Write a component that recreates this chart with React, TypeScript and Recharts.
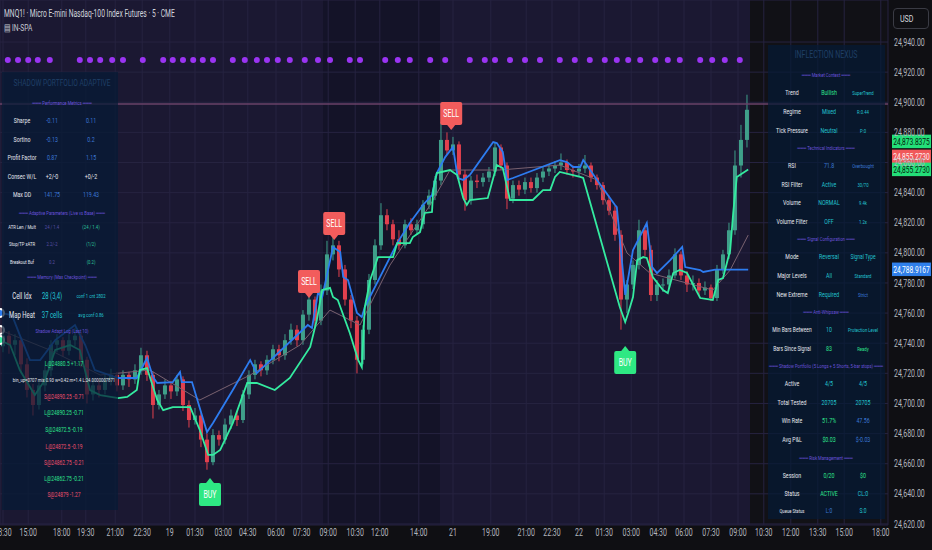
import {
  ComposedChart,
  Bar,
  Line,
  Scatter,
  XAxis,
  YAxis,
  CartesianGrid,
  ReferenceLine,
} from "recharts";

const FONT = "Roboto, 'Noto Sans', sans-serif";
const SX = 0.7; // the screenshot's text is squeezed horizontally

// MNQ1! 5m, resampled candles: [open, high, low, close]
const ohlc: number[][] = [
  [24738, 24750, 24734, 24745], [24745, 24748, 24733, 24739], [24739, 24746, 24732, 24742],
  [24742, 24744, 24720, 24726], [24726, 24730, 24704, 24709], [24709, 24713, 24692, 24699],
  [24699, 24714, 24696, 24712], [24712, 24725, 24708, 24722], [24722, 24742, 24718, 24739],
  [24739, 24746, 24734, 24742], [24742, 24744, 24731, 24735], [24735, 24746, 24732, 24742],
  [24742, 24750, 24738, 24745], [24745, 24747, 24724, 24729], [24729, 24731, 24700, 24706],
  [24706, 24716, 24702, 24712], [24712, 24715, 24704, 24709], [24709, 24720, 24706, 24716],
  [24716, 24723, 24712, 24719], [24719, 24721, 24708, 24712], [24712, 24722, 24709, 24719],
  [24719, 24721, 24711, 24716], [24716, 24726, 24713, 24722], [24722, 24737, 24719, 24732],
  [24732, 24735, 24715, 24719], [24719, 24721, 24690, 24699], [24699, 24709, 24696, 24706],
  [24706, 24716, 24703, 24712], [24712, 24715, 24703, 24708], [24708, 24719, 24705, 24716],
  [24716, 24718, 24695, 24699], [24699, 24702, 24684, 24689], [24689, 24697, 24686, 24692],
  [24692, 24694, 24671, 24676], [24676, 24680, 24656, 24661], [24661, 24683, 24659, 24679],
  [24679, 24682, 24672, 24676], [24676, 24690, 24673, 24686], [24686, 24696, 24683, 24692],
  [24692, 24695, 24685, 24689], [24689, 24709, 24687, 24706], [24706, 24722, 24703, 24719],
  [24719, 24729, 24716, 24726], [24726, 24728, 24718, 24722], [24722, 24732, 24719, 24729],
  [24729, 24739, 24726, 24736], [24736, 24739, 24728, 24732], [24732, 24746, 24729, 24742],
  [24742, 24753, 24739, 24749], [24749, 24752, 24738, 24742], [24742, 24762, 24739, 24759],
  [24759, 24772, 24755, 24769], [24769, 24771, 24750, 24755], [24755, 24779, 24752, 24775],
  [24775, 24808, 24772, 24799], [24799, 24813, 24795, 24805], [24805, 24808, 24784, 24789],
  [24789, 24792, 24765, 24769], [24769, 24772, 24750, 24755], [24755, 24758, 24720, 24729],
  [24729, 24752, 24726, 24749], [24749, 24786, 24746, 24782], [24782, 24809, 24779, 24805],
  [24805, 24833, 24802, 24825], [24825, 24829, 24815, 24819], [24819, 24822, 24805, 24809],
  [24809, 24815, 24802, 24805], [24805, 24822, 24803, 24819], [24819, 24823, 24812, 24815],
  [24815, 24822, 24812, 24819], [24819, 24835, 24816, 24832], [24832, 24842, 24829, 24838],
  [24838, 24851, 24835, 24848], [24848, 24887, 24845, 24875], [24875, 24880, 24865, 24868],
  [24868, 24877, 24865, 24872], [24872, 24874, 24848, 24852], [24852, 24855, 24828, 24835],
  [24835, 24851, 24832, 24848], [24848, 24852, 24843, 24847], [24847, 24853, 24844, 24850],
  [24850, 24857, 24847, 24854], [24854, 24873, 24851, 24870], [24870, 24872, 24855, 24858],
  [24858, 24860, 24829, 24836], [24836, 24848, 24833, 24845], [24845, 24848, 24838, 24842],
  [24842, 24850, 24839, 24847], [24847, 24850, 24840, 24843], [24843, 24853, 24840, 24850],
  [24850, 24857, 24847, 24854], [24854, 24859, 24851, 24856], [24856, 24861, 24853, 24858],
  [24858, 24866, 24855, 24860], [24860, 24862, 24852, 24855], [24855, 24858, 24850, 24854],
  [24854, 24859, 24851, 24856], [24856, 24865, 24853, 24858], [24858, 24860, 24847, 24850],
  [24850, 24852, 24842, 24845], [24845, 24847, 24832, 24835], [24835, 24838, 24825, 24828],
  [24828, 24831, 24808, 24812], [24812, 24815, 24749, 24769], [24769, 24782, 24760, 24779],
  [24779, 24795, 24776, 24792], [24792, 24822, 24789, 24815], [24815, 24818, 24798, 24802],
  [24802, 24805, 24768, 24772], [24772, 24782, 24768, 24779], [24779, 24783, 24774, 24779],
  [24779, 24789, 24776, 24785], [24785, 24803, 24783, 24799], [24799, 24801, 24782, 24785],
  [24785, 24788, 24774, 24779], [24779, 24785, 24775, 24780], [24780, 24783, 24772, 24775],
  [24775, 24781, 24772, 24777], [24777, 24779, 24768, 24770], [24770, 24792, 24768, 24789],
  [24789, 24802, 24786, 24799], [24799, 24820, 24796, 24815], [24815, 24868, 24812, 24858],
  [24858, 24885, 24850, 24875], [24875, 24905, 24870, 24895],
];

// indicator lines: [bar position, price]
const blueLine: number[][] = [
  [-0.5, 24760.1], [1.5, 24758.7], [2.8, 24745.4], [4.5, 24728.8], [6.2, 24728.8], [8.7, 24742.1],
  [12, 24752.1], [13.7, 24738.8], [15.3, 24722.2], [19.2, 24716.9], [22.3, 24716.9], [24, 24730.2],
  [25, 24717.6], [25.7, 24713.6], [28.3, 24714.2], [29.5, 24720.9], [29.8, 24714.2], [31.5, 24714.2],
  [34, 24681.0], [35, 24687.0], [38.3, 24708.9], [41.2, 24728.8], [42.3, 24720.2], [50.8, 24752.1],
  [51.5, 24750.1], [52.5, 24773.3], [53.2, 24770.7], [55, 24803.9], [56.2, 24800.6], [56.7, 24784.0],
  [57.5, 24782.0], [59, 24760.1], [59.8, 24757.4], [60.3, 24764.0], [65.7, 24806.5], [67.8, 24819.8],
  [70, 24831.8], [71.5, 24838.4], [72.3, 24853.0], [73.7, 24863.6], [75, 24870.3], [75.8, 24849.7],
  [76.7, 24848.4], [77.8, 24851.7], [81.7, 24873.6], [82.3, 24872.9], [83.3, 24867.0], [84, 24848.4],
  [85, 24849.7], [92.8, 24861.6], [94, 24860.3], [95, 24857.0], [96.2, 24857.0], [96.7, 24861.6],
  [97.3, 24858.3], [99, 24848.4], [102, 24831.8], [102.3, 24830.4], [103.7, 24772.0], [105, 24801.9],
  [107.3, 24819.8], [108.2, 24790.6], [109, 24786.6], [111.2, 24795.2], [113.2, 24803.9],
  [113.7, 24790.6], [116.2, 24788.6], [116.7, 24787.3], [118.7, 24788.9], [124.2, 24788.9],
];

const greenLine: number[][] = [
  [-0.5, 24742.1], [1.2, 24738.8], [2.8, 24722.2], [5.3, 24705.6], [7, 24715.6], [8.7, 24735.5],
  [11.2, 24738.8], [12.8, 24735.5], [14.5, 24708.9], [16.2, 24705.6], [19.2, 24703.6], [20.7, 24704.3],
  [22.3, 24708.9], [22.8, 24722.2], [24, 24723.5], [25.7, 24702.3], [26.7, 24695.6], [28.3, 24697.6],
  [31.2, 24697.6], [32.8, 24682.4], [34.2, 24665.8], [35, 24665.8], [36.2, 24669.1], [38.3, 24687.0],
  [40.7, 24713.6], [42.3, 24713.6], [45.3, 24708.9], [47.8, 24716.9], [51.2, 24737.5], [52.3, 24755.4],
  [53.2, 24775.3], [54.5, 24776.7], [55, 24770.7], [55.8, 24768.7], [57.8, 24746.8], [59.2, 24728.8],
  [59.8, 24724.2], [60.3, 24764.0], [61.2, 24782.0], [62.5, 24797.2], [65, 24797.2], [65.7, 24806.5],
  [67.8, 24806.5], [68.3, 24810.5], [69.5, 24813.8], [70.3, 24826.5], [71.5, 24827.1], [71.7, 24841.7],
  [72.3, 24853.0], [74.5, 24855.0], [75.7, 24851.7], [76.7, 24836.4], [77.3, 24831.8], [77.8, 24835.1],
  [80.8, 24836.4], [82.3, 24858.3], [83.3, 24856.3], [84.5, 24835.1], [88.3, 24835.1], [90, 24841.7],
  [91.2, 24841.7], [92, 24850.4], [92.8, 24853.7], [96.2, 24850.4], [96.7, 24849.7], [102.8, 24764.0],
  [103.7, 24754.1], [104.2, 24760.1], [105, 24770.7], [105.7, 24795.2], [106.7, 24797.2],
  [107.3, 24796.6], [108.3, 24784.0], [110, 24775.3], [110.8, 24773.3], [111.7, 24786.6],
  [112.8, 24788.6], [114, 24786.6], [116.2, 24770.0], [118.3, 24768.7], [119.2, 24782.0],
  [120, 24783.3], [121.2, 24801.9], [121.7, 24826.5], [122.3, 24850.4], [124.2, 24855.3],
];

const maLine: number[][] = [
  [-0.5, 24748.8], [7.8, 24735.5], [16.2, 24718.9], [24.5, 24722.2], [32.8, 24702.3], [41.2, 24718.9],
  [49.5, 24738.8], [54.5, 24762.0], [59.5, 24752.1], [64.5, 24791.9], [71.2, 24831.8], [74.5, 24855.0],
  [82.8, 24855.0], [92.8, 24858.3], [99, 24848.4], [104, 24799.9], [107.8, 24786.6], [118.3, 24775.3],
  [121.2, 24788.6], [124.2, 24811.8],
];

// top row of purple state dots
const dotPos = [
  0.8, 2.5, 4.2, 5.8, 7.8, 12.8, 14.5, 16.2, 18.2, 20, 23.3, 26.7, 28.3, 30, 31.7, 33.3, 35, 38.3,
  40.3, 42.3, 44, 45.8, 47.8, 50.3, 52.5, 54.5, 57.8, 59.5, 63.7, 65.8, 67.8, 71.2, 73.7, 77.8, 80.3,
  82, 84.5, 87, 89.5, 92.8, 95.3, 97.8, 100.3, 102.3, 104.2, 106.2, 108.7, 110.8, 112.8, 116.2,
  118.2, 120.3, 122.8,
];
const dotLevel = 24928;

const signals = [
  { t: 34.5, p: 24650.5, kind: "BUY" },
  { t: 51, p: 24770.0, kind: "SELL" },
  { t: 55.2, p: 24808.5, kind: "SELL" },
  { t: 74.7, p: 24881.6, kind: "SELL" },
  { t: 103.7, p: 24738.1, kind: "BUY" },
];

const priceTicks = [
  24620, 24640, 24660, 24680, 24700, 24720, 24740, 24760, 24780, 24800, 24820, 24840, 24860, 24880,
  24900, 24920, 24940,
];

const timeTickPos = [
  0, 4.2, 9.8, 13.8, 18.7, 23.2, 27.8, 32, 36.7, 40.8, 45.5, 49.8, 54.2, 58.7, 62.8, 69.3, 75, 81.3,
  87.2, 91.5, 96, 100.2, 104.7, 109.2, 113.5, 118, 122.5, 126.8, 131.3, 135.8, 140.2, 146.3,
];
const timeTickLabels = [
  "13:30", "15:00", "18:00", "19:30", "21:00", "22:30", "19", "01:30", "03:00", "04:30", "06:00",
  "07:30", "09:00", "10:30", "12:00", "14:00", "21", "19:00", "21:00", "22:30", "22", "01:30",
  "03:00", "04:30", "06:00", "07:30", "09:00", "10:30", "12:00", "13:30", "15:00", "18:00",
];

const hLevel = 24898.8;

const priceTags = [
  { v: 24873.8375, bg: "#23df78", fg: "#06210f", dy: 0 },
  { v: 24855.273, bg: "#f0585a", fg: "#fff0f0", dy: -13 },
  { v: 24855.273, bg: "#23df78", fg: "#06210f", dy: 0 },
  { v: 24788.9167, bg: "#2f7fea", fg: "#ffffff", dy: 0 },
];

const UP = "#3f9f8a";
const DOWN = "#e2404e";

const candles = ohlc.map((r, i) => ({ t: i, o: r[0], h: r[1], l: r[2], c: r[3] }));
const toPts = (arr: number[][]) => arr.map(([t, p]) => ({ t, p }));
const dotData = dotPos.map((t) => ({ t, p: dotLevel }));

// table colours
const W = "#e6e8ee";
const B = "#3b78d6";
const T = "#22c3d0";
const G = "#2ee48d";
const P = "#5a4fa6";
const TG = "#2bc39c";
const R = "#ee4f6c";
const HEAD = "#6a52dc";

type Cell = [string, string, number?];
type Row = { y: number; head?: string; cells?: Cell[]; log?: string; color?: string };

const leftRows: Row[] = [
  { y: 103, head: "═══ Performance Metrics ═══" },
  { y: 121, cells: [["Sharpe", W], ["-0.11", B], ["0.11", B]] },
  { y: 140, cells: [["Sortino", W], ["-0.13", B], ["0.2", B]] },
  { y: 158, cells: [["Profit Factor", W], ["0.87", B], ["1.15", B]] },
  { y: 177, cells: [["Consec W/L", W], ["+2/-0", W], ["+0/-2", W]] },
  { y: 195, cells: [["Max DD", W], ["141.75", B], ["119.43", B]] },
  { y: 213, head: "═══ Adaptive Parameters (Live vs Base) ═══" },
  { y: 227, cells: [["ATR Len / Mult", W, 6], ["24 / 1.4", P, 6], ["(24 / 1.4)", TG, 6]] },
  { y: 244, cells: [["Stop/TP xATR", W, 6], ["2.2/-2", P, 6], ["(1/2)", TG, 6]] },
  { y: 262, cells: [["Breakout Buf", W, 6], ["0.2", P, 6], ["(0.2)", TG, 6]] },
  { y: 277, head: "═══ Memory (Max Checkpoint) ═══" },
  { y: 296, cells: [["Cell Idx", W, 8.5], ["28 (3,4)", T, 8.5], ["conf 1 cnt 2802", T, 6]] },
  { y: 315, cells: [["Map Heat", W, 8.5], ["37 cells", T, 8.5], ["avg conf 0.86", T, 6]] },
  { y: 331, head: "Shadow Adapt Log (Last 10)" },
  { y: 364, log: "L@24880.5 +1.17", color: G },
  { y: 380, log: "bin_up=0707 mix 0.93 w=0.42 m=1.4 L:24.0000007871", color: W },
  { y: 397, log: "S@24890.25 -0.71", color: R },
  { y: 413, log: "L@24890.25 -0.71", color: G },
  { y: 430, log: "S@24872.5 -0.19", color: G },
  { y: 447, log: "L@24872.5 -0.19", color: R },
  { y: 463, log: "S@24862.75 -0.21", color: R },
  { y: 479, log: "L@24862.75 -0.21", color: G },
  { y: 495, log: "S@24879 -1.27", color: R },
];

const rightRows: Row[] = [
  { y: 75, head: "═══ Market Context ═══" },
  { y: 93, cells: [["Trend", W], ["Bullish", G], ["SuperTrend", T, 6]] },
  { y: 112, cells: [["Regime", W], ["Mixed", T], ["R:0.44", T, 6]] },
  { y: 131, cells: [["Tick Pressure", W], ["Neutral", T], ["P:0", T, 6]] },
  { y: 148, head: "═══ Technical Indicators ═══" },
  { y: 166, cells: [["RSI", W], ["71.8", B], ["Overbought", B, 6]] },
  { y: 185, cells: [["RSI Filter", W], ["Active", T], ["30/70", T, 6]] },
  { y: 203, cells: [["Volume", W], ["NORMAL", T], ["9.4k", T, 6]] },
  { y: 222, cells: [["Volume Filter", W], ["OFF", T], ["1.2x", T, 6]] },
  { y: 239, head: "═══ Signal Configuration ═══" },
  { y: 257, cells: [["Mode", W], ["Reversal", T], ["Signal Type", T, 7]] },
  { y: 276, cells: [["Major Levels", W], ["All", T], ["Standard", T, 6]] },
  { y: 295, cells: [["New Extreme", W], ["Required", T], ["Strict", B, 6]] },
  { y: 312, head: "═══ Anti-Whipsaw ═══" },
  { y: 330, cells: [["Min Bars Between", W, 7], ["10", T], ["Protection Level", T, 6]] },
  { y: 349, cells: [["Bars Since Signal", W, 7], ["83", G], ["Ready", G, 6]] },
  { y: 366, head: "═══ Shadow Portfolio (5 Longs + 5 Shorts, 5-bar stops) ═══" },
  { y: 384, cells: [["Active", W], ["4/5", T], ["4/5", T]] },
  { y: 403, cells: [["Total Tested", W], ["20705", T], ["20705", T]] },
  { y: 421, cells: [["Win Rate", W], ["51.7%", G], ["47.56", B]] },
  { y: 440, cells: [["Avg P&L", W], ["$0.03", G], ["$-0.03", B]] },
  { y: 458, head: "═══ Risk Management ═══" },
  { y: 476, cells: [["Session", W], ["0/20", G], ["$0", G]] },
  { y: 494, cells: [["Status", W], ["ACTIVE", G], ["CL:0", T]] },
  { y: 511, cells: [["Queue Status", W, 6], ["L:0", B, 7], ["S:0", T, 7]] },
];

function Candle(props: any) {
  const { x, y, width, height, payload } = props;
  if (payload == null) return null;
  const top = Math.min(y, y + height);
  const hgt = Math.abs(height);
  const cx = x + width / 2;
  const { o, h, l, c } = payload;
  const k = hgt / (h - l);
  const yo = top + (h - o) * k;
  const yc = top + (h - c) * k;
  const color = c >= o ? UP : DOWN;
  return (
    <g>
      <line x1={cx} x2={cx} y1={top} y2={top + hgt} stroke={color} strokeWidth={1} />
      <rect x={cx - 2} y={Math.min(yo, yc)} width={4} height={Math.max(1, Math.abs(yc - yo))} fill={color} />
    </g>
  );
}

function SqText({ x, y, anchor, size, fill, dy, children }: any) {
  return (
    <text
      x={0}
      y={0}
      dy={dy}
      transform={`translate(${x},${y}) scale(${SX},1)`}
      textAnchor={anchor}
      fontSize={size}
      fontFamily={FONT}
      fill={fill}
    >
      {children}
    </text>
  );
}

function SignalTag(props: any) {
  const { cx, cy, payload } = props;
  const sell = payload.kind === "SELL";
  const bg = sell ? "#f25c5c" : "#2ee883";
  const w = 22;
  const h = 23;
  const a = 5;
  const boxY = sell ? cy - a - h : cy + a;
  const triY = sell ? cy - a : cy + a;
  return (
    <g>
      <rect x={cx - w / 2} y={boxY} width={w} height={h} rx={2} fill={bg} />
      <polygon points={`${cx - 4},${triY} ${cx + 4},${triY} ${cx},${cy}`} fill={bg} />
      <SqText x={cx} y={boxY + h / 2} anchor="middle" size={10} fill="#ffffff" dy="0.36em">
        {payload.kind}
      </SqText>
    </g>
  );
}

function PriceTag(props: any) {
  const { viewBox, value, bg, fg, dy } = props;
  if (!viewBox) return null;
  const x = viewBox.x + viewBox.width + 4;
  const y = viewBox.y + dy;
  return (
    <g>
      <rect x={x} y={y - 7} width={39} height={13.5} fill={bg} />
      <SqText x={x + 19.5} y={y} anchor="middle" size={9.5} fill={fg} dy="0.36em">
        {value.toLocaleString("en-US", { minimumFractionDigits: 4, maximumFractionDigits: 4 })}
      </SqText>
    </g>
  );
}

function TimeTick(props: any) {
  const { x, y, payload } = props;
  const label = timeTickLabels[timeTickPos.indexOf(payload.value)] ?? "";
  return (
    <SqText x={x} y={y} anchor="middle" size={10} fill="#b2b5be" dy="0.71em">
      {label}
    </SqText>
  );
}

function PriceTick(props: any) {
  const { x, y, payload } = props;
  const label = payload.value.toLocaleString("en-US", { minimumFractionDigits: 2, maximumFractionDigits: 2 });
  return (
    <SqText x={x} y={y} anchor="start" size={10} fill="#b2b5be" dy="0.36em">
      {label}
    </SqText>
  );
}

function Panel({
  left,
  top,
  width,
  height,
  title,
  titleY,
  titleSize,
  rows,
  cols,
  headX,
}: {
  left: number;
  top: number;
  width: number;
  height: number;
  title: string;
  titleY: number;
  titleSize: number;
  rows: Row[];
  cols: number[];
  headX: number;
}) {
  const abs = (cx: number, cy: number): any => ({
    position: "absolute",
    left: cx - left,
    top: cy - top,
    transform: `translate(-50%, -50%) scaleX(${SX})`,
    whiteSpace: "nowrap",
    lineHeight: 1,
  });
  return (
    <div
      style={{
        position: "absolute",
        left,
        top,
        width,
        height,
        background: "rgba(6, 27, 52, 0.72)",
        fontFamily: FONT,
      }}
    >
      <div style={{ ...abs(headX, titleY), fontSize: titleSize, color: "#1f3f66" }}>{title}</div>
      {rows.map((r, i) => {
        if (r.head)
          return (
            <div key={i} style={{ ...abs(headX, r.y), fontSize: 6, color: HEAD }}>
              {r.head}
            </div>
          );
        if (r.log)
          return (
            <div key={i} style={{ ...abs(headX + 2, r.y), fontSize: r.log.length > 30 ? 6 : 7, color: r.color }}>
              {r.log}
            </div>
          );
        return (
          <div key={i}>
            {(r.cells ?? []).map((c, j) => (
              <div key={j} style={{ ...abs(cols[j], r.y), fontSize: c[2] ?? 7.5, color: c[1] }}>
                {c[0]}
              </div>
            ))}
          </div>
        );
      })}
    </div>
  );
}

export default function App() {
  return (
    <div
      style={{
        position: "relative",
        width: 932,
        height: 550,
        overflow: "hidden",
        fontFamily: FONT,
        background:
          "linear-gradient(to right, #1b1832 0px, #1b1832 323px, #141328 323px, #141328 440px, #1b1832 440px, #1b1832 750px, #111116 750px)",
      }}
    >
      <style>{"body{margin:0;background:#0f0f13}"}</style>
      {/* axis strips */}
      <div style={{ position: "absolute", left: 0, top: 525, width: 932, height: 25, background: "#0f0f13" }} />
      <div style={{ position: "absolute", left: 888, top: 0, width: 44, height: 550, background: "#0f0f13" }} />

      <div style={{ position: "absolute", left: 0, top: 0 }}>
        <ComposedChart width={932} height={550} data={candles} margin={{ top: 0, right: 0, left: 0, bottom: 0 }}>
          <CartesianGrid stroke="#262340" strokeWidth={1} />
          <XAxis
            dataKey="t"
            type="number"
            domain={[-0.5, 147.5]}
            allowDataOverflow
            ticks={timeTickPos}
            interval={0}
            tick={<TimeTick />}
            tickLine={false}
            axisLine={false}
            tickSize={0}
            tickMargin={4}
            height={25}
          />
          <YAxis
            orientation="right"
            type="number"
            domain={[24619.3, 24967.9]}
            allowDataOverflow
            ticks={priceTicks}
            interval={0}
            tick={<PriceTick />}
            tickLine={false}
            axisLine={false}
            tickSize={0}
            tickMargin={6}
            width={44}
          />
          <ReferenceLine y={hLevel} stroke="#6a4268" strokeWidth={1.5} />
          <Bar
            dataKey={(d: any) => [d.l, d.h]}
            barSize={4}
            shape={(p: any) => <Candle {...p} />}
            isAnimationActive={false}
          />
          <Line data={toPts(maLine)} dataKey="p" type="linear" stroke="#7a6270" strokeWidth={1} dot={false} isAnimationActive={false} />
          <Line data={toPts(blueLine)} dataKey="p" type="linear" stroke="#2d7cf0" strokeWidth={1.8} dot={false} isAnimationActive={false} />
          <Line data={toPts(greenLine)} dataKey="p" type="linear" stroke="#34eba0" strokeWidth={1.8} dot={false} isAnimationActive={false} />
          <Scatter
            data={dotData}
            dataKey="p"
            isAnimationActive={false}
            shape={(p: any) => <circle cx={p.cx} cy={p.cy} r={3} fill="#9a34f2" />}
          />
          <Scatter data={signals} dataKey="p" isAnimationActive={false} shape={(p: any) => <SignalTag {...p} />} />
          {priceTags.map((tg, i) => (
            <ReferenceLine
              key={i}
              y={tg.v}
              stroke="none"
              label={<PriceTag value={tg.v} bg={tg.bg} fg={tg.fg} dy={tg.dy} />}
            />
          ))}
        </ComposedChart>
      </div>

      {/* header */}
      <div
        style={{
          position: "absolute",
          left: 4,
          top: 8,
          fontSize: 10,
          color: "#d1d4dc",
          whiteSpace: "nowrap",
          transform: "scaleX(0.67)",
          transformOrigin: "left center",
        }}
      >
        MNQ1! · Micro E-mini Nasdaq-100 Index Futures · 5 · CME
      </div>
      <div
        style={{
          position: "absolute",
          left: 4,
          top: 22,
          fontSize: 9.5,
          color: "#c5c8d0",
          whiteSpace: "nowrap",
          transform: "scaleX(0.7)",
          transformOrigin: "left center",
        }}
      >
        ▤ IN-SPA
      </div>
      <div
        style={{
          position: "absolute",
          left: 893,
          top: 8,
          width: 36,
          height: 21,
          border: "1px solid #3a3b44",
          borderRadius: 4,
          boxSizing: "border-box",
          color: "#d1d4dc",
          fontSize: 9.5,
          lineHeight: "19px",
          paddingLeft: 6,
        }}
      >
        <span style={{ display: "inline-block", transform: "scaleX(0.75)", transformOrigin: "left center" }}>USD</span>
      </div>

      <Panel
        left={2}
        top={72}
        width={116}
        height={438}
        title="SHADOW PORTFOLIO ADAPTIVE"
        titleY={83}
        titleSize={9.5}
        rows={leftRows}
        cols={[22, 52, 91]}
        headX={62}
      />
      <Panel
        left={768}
        top={45}
        width={117}
        height={474}
        title="INFLECTION NEXUS"
        titleY={55}
        titleSize={10}
        rows={rightRows}
        cols={[792, 829, 863]}
        headX={826}
      />
    </div>
  );
}
